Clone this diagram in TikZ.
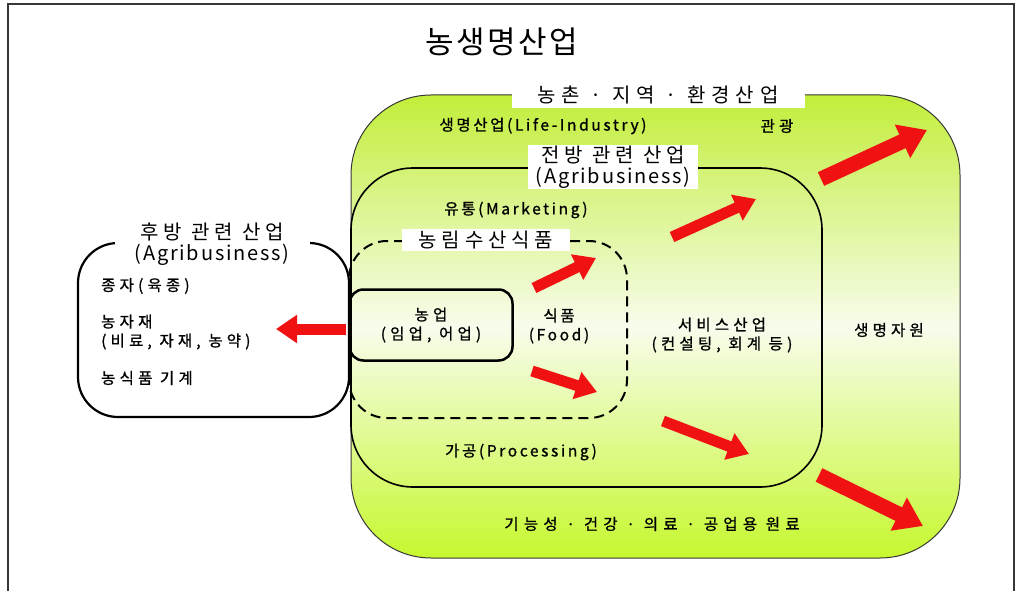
\documentclass[tikz,border=0pt]{standalone}
\usepackage{fontspec}
\setmainfont{Noto Sans CJK KR}
% spaced faces: wide spacing for Hangul runs, narrower for Latin runs
\newfontfamily\krTitle[LetterSpace=8]{Noto Sans CJK KR}
\newfontfamily\krH[LetterSpace=24]{Noto Sans CJK KR}
\newfontfamily\krHw[LetterSpace=30]{Noto Sans CJK KR}
\newfontfamily\krL[LetterSpace=9]{Noto Sans CJK KR}
\newfontfamily\krHb[LetterSpace=27, FakeBold=1]{Noto Sans CJK KR}
\newfontfamily\krHbw[LetterSpace=34, FakeBold=1]{Noto Sans CJK KR}
\newfontfamily\krMb[LetterSpace=17, FakeBold=1]{Noto Sans CJK KR}
\usetikzlibrary{arrows.meta}

\definecolor{leafgreen}{RGB}{194,238,58}
\definecolor{leafgreenb}{RGB}{198,248,46}
\definecolor{palegreen}{RGB}{247,252,236}
\definecolor{arrowred}{RGB}{240,18,18}
\definecolor{framegray}{RGB}{55,55,55}

\tikzset{
  hsmall/.style={inner sep=0pt, align=center, font=\krHb\fontsize{15.5}{19}\selectfont},
  msmall/.style={inner sep=0pt, align=center, font=\krMb\fontsize{15.5}{19}\selectfont},
  whitelabel/.style={fill=white, inner sep=0pt, align=center, font=\krH\fontsize{20}{22}\selectfont},
  bigarrow/.style={draw=arrowred, line width=15pt, -{Triangle[length=27pt,width=35pt]}},
  midarrow/.style={draw=arrowred, line width=11pt, -{Triangle[length=21pt,width=27pt]}},
}

\begin{document}
\begin{tikzpicture}[x=1pt,y=-1pt]
\useasboundingbox (0,0) rectangle (1022,591);

% page frame, open at the bottom
\draw[framegray, line width=2.5pt] (8,595) -- (8,4) -- (1014,4) -- (1014,595);

% title
\node[inner sep=0pt, font=\krTitle\fontsize{31}{34}\selectfont] (title) at (502,42) {농생명산업};

% outer green region: rural, regional and environmental industries
\path[draw=framegray, line width=1pt, rounded corners=80,
      top color=leafgreen, bottom color=leafgreenb, middle color=palegreen]
  (351,95) rectangle (960,558);

% front-end industries
\draw[line width=1.6pt, rounded corners=62] (351,168) rectangle (822,487);

% agro-food products (dashed)
\draw[line width=2pt, dash pattern=on 10pt off 6pt, rounded corners=38] (349,241) rectangle (627,418);

% back-end industries
\draw[line width=2.2pt, rounded corners=40] (78,243) rectangle (349,417);

% farming core
\node[draw, line width=2.5pt, rounded corners=14, minimum width=163, minimum height=71,
      align=center, font=\krHb\fontsize{15.5}{19}\selectfont] (farm) at (431,325) {농업\\(임업, 어업)};

% labels on white backgrounds
\node[whitelabel, minimum width=293, minimum height=27, font=\krHw\fontsize{20}{22}\selectfont] (env) at (658,95) {농촌 · 지역 · 환경산업};
\node[whitelabel, minimum width=170, minimum height=44] (front) at (613,167)
  {전방 관련 산업\\[-1pt]{\krL(Agribusiness)}};
\node[whitelabel, minimum width=168, minimum height=22] (agrofood) at (486,240) {농림수산식품};
\node[whitelabel, minimum width=195, minimum height=46] (back) at (212,244)
  {후방 관련 산업\\[-1pt]{\krL(Agribusiness)}};

% texts in the green region
\node[msmall] (life) at (543,126) {생명산업(Life-Industry)};
\node[hsmall] (tour) at (777,126) {관광};
\node[msmall] (mkt) at (516,210) {유통(Marketing)};
\node[msmall] (food) at (559,326) {식품\\(Food)};
\node[hsmall] (svc) at (722,335) {서비스산업\\(컨설팅, 회계 등)};
\node[hsmall] (bio) at (889,330) {생명자원};
\node[msmall] (proc) at (521,452) {가공(Processing)};
\node[hsmall, font=\krHbw\fontsize{15.5}{19}\selectfont] (raw) at (652,524) {기능성 · 건강 · 의료 · 공업용 원료};

% texts in the back-end box
\node[hsmall, anchor=west] (seed) at (101,286) {종자(육종)};
\node[hsmall, anchor=west, align=left] (mat) at (101,332) {농자재\\(비료, 자재, 농약)};
\node[hsmall, anchor=west] (mach) at (101,378) {농식품 기계};

% flow arrows
\coordinate (a1s) at (346,329); \coordinate (a1e) at (276,329);
\coordinate (a2s) at (534,288); \coordinate (a2e) at (596,258);
\coordinate (a3s) at (532,371); \coordinate (a3e) at (597,392);
\coordinate (a4s) at (672,237); \coordinate (a4e) at (756,199);
\coordinate (a5s) at (663,421); \coordinate (a5e) at (749,454);
\coordinate (a6s) at (821,179); \coordinate (a6e) at (927,130);
\coordinate (a7s) at (819,475); \coordinate (a7e) at (923,526);

\draw[midarrow] (a1s) -- (a1e);
\draw[midarrow] (a2s) -- (a2e);
\draw[midarrow] (a3s) -- (a3e);
\draw[midarrow] (a4s) -- (a4e);
\draw[midarrow] (a5s) -- (a5e);
\draw[bigarrow] (a6s) -- (a6e);
\draw[bigarrow] (a7s) -- (a7e);
\end{tikzpicture}
\end{document}
